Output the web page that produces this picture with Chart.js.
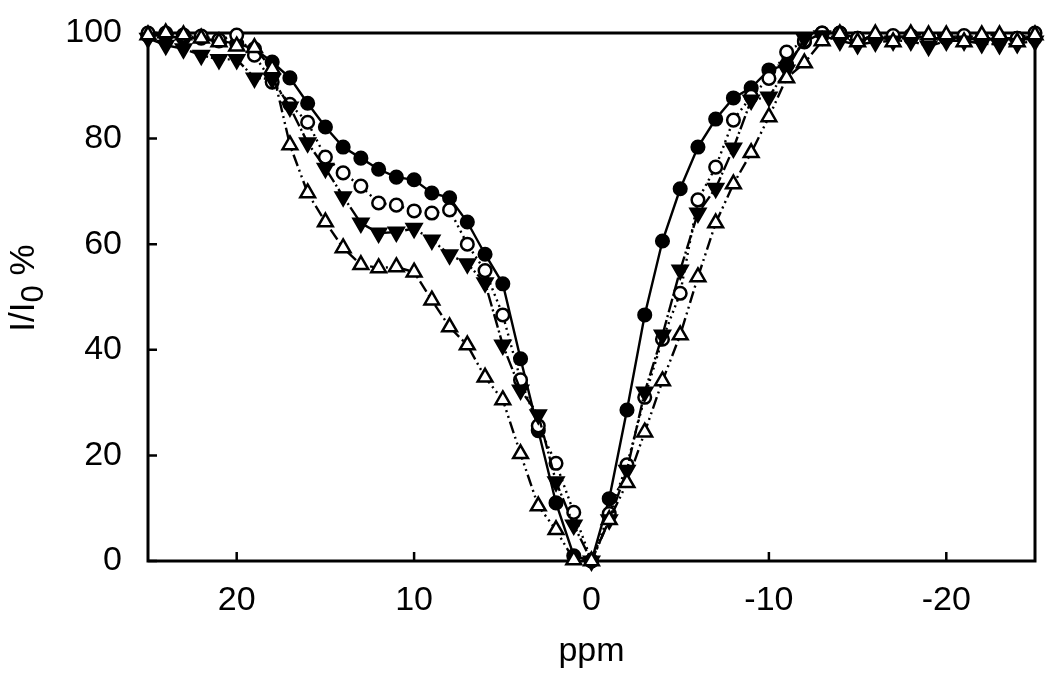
<!DOCTYPE html>
<html>
<head>
<meta charset="utf-8">
<script src="https://cdn.jsdelivr.net/npm/chart.js@4.4.1/dist/chart.umd.min.js"></script>
<style>
  html, body { margin: 0; padding: 0; background: #fff; }
  #wrap { width: 1050px; height: 683px; }
</style>
</head>
<body>
<div id="wrap"><canvas id="chart" width="1050" height="683"></canvas></div>
<script>
// chemical shift offsets (ppm), left to right
var ppm = [25, 24, 23, 22, 21, 20, 19, 18, 17, 16, 15, 14, 13, 12, 11, 10, 9, 8, 7, 6, 5, 4, 3, 2, 1, 0,
  -1, -2, -3, -4, -5, -6, -7, -8, -9, -10, -11, -12, -13, -14, -15, -16, -17, -18, -19, -20, -21, -22, -23, -24, -25];

// I/I0 % for each series
var filledCircle = [99.5, 99.5, 99, 99, 98.5, 98, 97, 94.5, 91.5, 86.7, 82.2, 78.4, 76.3, 74.2, 72.7, 72.2, 69.7, 68.8, 64.2, 58.1, 52.5, 38.3, 24.7, 11, 1, 0,
  11.8, 28.6, 46.6, 60.6, 70.5, 78.4, 83.7, 87.7, 89.6, 93, 94, 98.3, 100, 100, 99, 99, 99, 99.5, 99, 99, 99, 98.8, 99, 99, 99];
var openCircle = [100, 100, 99.6, 99.4, 98.7, 99.6, 95.8, 90.7, 86.5, 83.1, 76.5, 73.5, 71, 67.8, 67.4, 66.3, 65.9, 66.5, 60, 55, 46.6, 34.3, 25.6, 18.5, 9.2, 0,
  9, 18.2, 31, 42, 50.7, 68.4, 74.6, 83.5, 88, 91.4, 96.4, 98.5, 100, 100, 99, 99, 99.5, 99, 99, 99, 99.5, 99, 99, 99, 100];
var filledTriangle = [99, 97.7, 97, 95.8, 95, 95, 91.5, 91.3, 86, 79.2, 74.4, 69, 64, 62.1, 62.3, 63, 60.8, 58, 56.3, 52.7, 40.9, 32.4, 27.7, 15, 6.8, 0,
  7.8, 17.2, 32, 42.8, 55.1, 65.9, 70.6, 78.2, 87.3, 87.9, 93, 99, 99.5, 98.5, 97.8, 98.3, 98.5, 98.5, 97.5, 98.5, 98.5, 98, 97.8, 98, 98.5];
var openTriangle = [99.6, 100, 99.6, 99, 98.3, 97.5, 97.2, 93.2, 78.8, 69.7, 64.2, 59.3, 56.1, 55.5, 55.7, 54.7, 49.4, 44.3, 40.9, 34.8, 30.5, 20.3, 10.4, 5.9, 0.2, 0,
  7.8, 14.8, 24.4, 34.1, 42.8, 53.8, 64, 71.4, 77.3, 84.1, 91.5, 94.3, 98.5, 99.8, 98.3, 99.8, 98.3, 99.8, 99.6, 99.6, 98.3, 99.6, 99.6, 98.3, 99.6];

var xTicks = [20, 10, 0, -10, -20];
var yTicks = [0, 20, 40, 60, 80, 100];

var FONT = '"Liberation Sans", Arial, Helvetica, sans-serif';

function points(values) {
  return ppm.map(function (x, i) { return { x: x, y: values[i] }; });
}

function series(values, style, fill, rotation, radius, dash) {
  return {
    data: points(values),
    borderColor: '#000',
    borderWidth: 2.4,
    borderDash: dash,
    pointStyle: style,
    pointRotation: rotation,
    pointRadius: radius,
    pointBackgroundColor: fill,
    pointBorderColor: '#000',
    pointBorderWidth: 2.5,
    tension: 0,
    fill: false,
    clip: false
  };
}

var bgPlugin = {
  id: 'bg',
  beforeDraw: function (chart) {
    var ctx = chart.ctx;
    ctx.save();
    ctx.fillStyle = '#fff';
    ctx.fillRect(0, 0, chart.width, chart.height);
    ctx.restore();
  }
};

// box round the plot plus inward tick marks
var framePlugin = {
  id: 'frame',
  beforeDatasetsDraw: function (chart) {
    var a = chart.chartArea, ctx = chart.ctx;
    var xs = chart.scales.x, ys = chart.scales.y;
    ctx.save();
    ctx.strokeStyle = '#000';
    ctx.lineWidth = 3;
    ctx.strokeRect(a.left, a.top, a.right - a.left, a.bottom - a.top);
    ctx.lineWidth = 2.5;
    ctx.beginPath();
    xTicks.forEach(function (v) {
      var px = xs.getPixelForValue(v);
      ctx.moveTo(px, a.bottom);
      ctx.lineTo(px, a.bottom - 9);
    });
    yTicks.forEach(function (v) {
      var py = ys.getPixelForValue(v);
      ctx.moveTo(a.left, py);
      ctx.lineTo(a.left + 9, py);
    });
    ctx.stroke();
    ctx.restore();
  }
};

// y title with subscript: I/I0 %
var yTitlePlugin = {
  id: 'yTitle',
  afterDraw: function (chart) {
    var ctx = chart.ctx;
    var big = '35px ' + FONT, sub = '31px ' + FONT;
    ctx.save();
    ctx.translate(34, 288);
    ctx.rotate(-Math.PI / 2);
    ctx.fillStyle = '#000';
    ctx.textBaseline = 'alphabetic';
    ctx.textAlign = 'left';
    ctx.font = big;
    var w1 = ctx.measureText('I/I').width;
    var w3 = ctx.measureText(' %').width;
    ctx.font = sub;
    var w2 = ctx.measureText('0').width;
    var x = -(w1 + w2 + w3) / 2;
    ctx.font = big;
    ctx.fillText('I/I', x, 0);
    ctx.font = sub;
    ctx.fillText('0', x + w1, 9);
    ctx.font = big;
    ctx.fillText(' %', x + w1 + w2, 0);
    ctx.restore();
  }
};

var tickFont = { family: FONT, size: 34 };

new Chart(document.getElementById('chart').getContext('2d'), {
  type: 'line',
  data: {
    datasets: [
      series(openTriangle, 'triangle', '#fff', 0, 8.5, [12, 4, 2, 4, 2, 4]),
      series(filledTriangle, 'triangle', '#000', 180, 8.5, [14, 3, 2, 3]),
      series(openCircle, 'circle', '#fff', 0, 6.3, [2, 4]),
      series(filledCircle, 'circle', '#000', 0, 6.3, [])
    ]
  },
  options: {
    responsive: false,
    animation: false,
    devicePixelRatio: 1,
    layout: { padding: { top: 33, right: 15, left: 0, bottom: 0 } },
    plugins: {
      legend: { display: false },
      tooltip: { enabled: false }
    },
    scales: {
      x: {
        type: 'linear',
        reverse: true,
        min: -25,
        max: 25,
        grid: { display: false, drawTicks: false },
        border: { display: false },
        afterBuildTicks: function (scale) {
          scale.ticks = xTicks.map(function (v) { return { value: v }; });
        },
        afterFit: function (scale) {
          scale.height = 122;
          scale.paddingLeft = 0;
          scale.paddingRight = 0;
        },
        ticks: { font: tickFont, color: '#000', padding: 19, autoSkip: false, maxRotation: 0 },
        title: {
          display: true,
          text: 'ppm',
          color: '#000',
          font: tickFont,
          padding: { top: 0, bottom: 11 }
        }
      },
      y: {
        min: 0,
        max: 100,
        grid: { display: false, drawTicks: false },
        border: { display: false },
        afterBuildTicks: function (scale) {
          scale.ticks = yTicks.map(function (v) { return { value: v }; });
        },
        afterFit: function (scale) {
          scale.width = 148;
          scale.paddingTop = 0;
          scale.paddingBottom = 0;
        },
        ticks: { font: tickFont, color: '#000', padding: 26 }
      }
    }
  },
  plugins: [bgPlugin, framePlugin, yTitlePlugin]
});
</script>
</body>
</html>
